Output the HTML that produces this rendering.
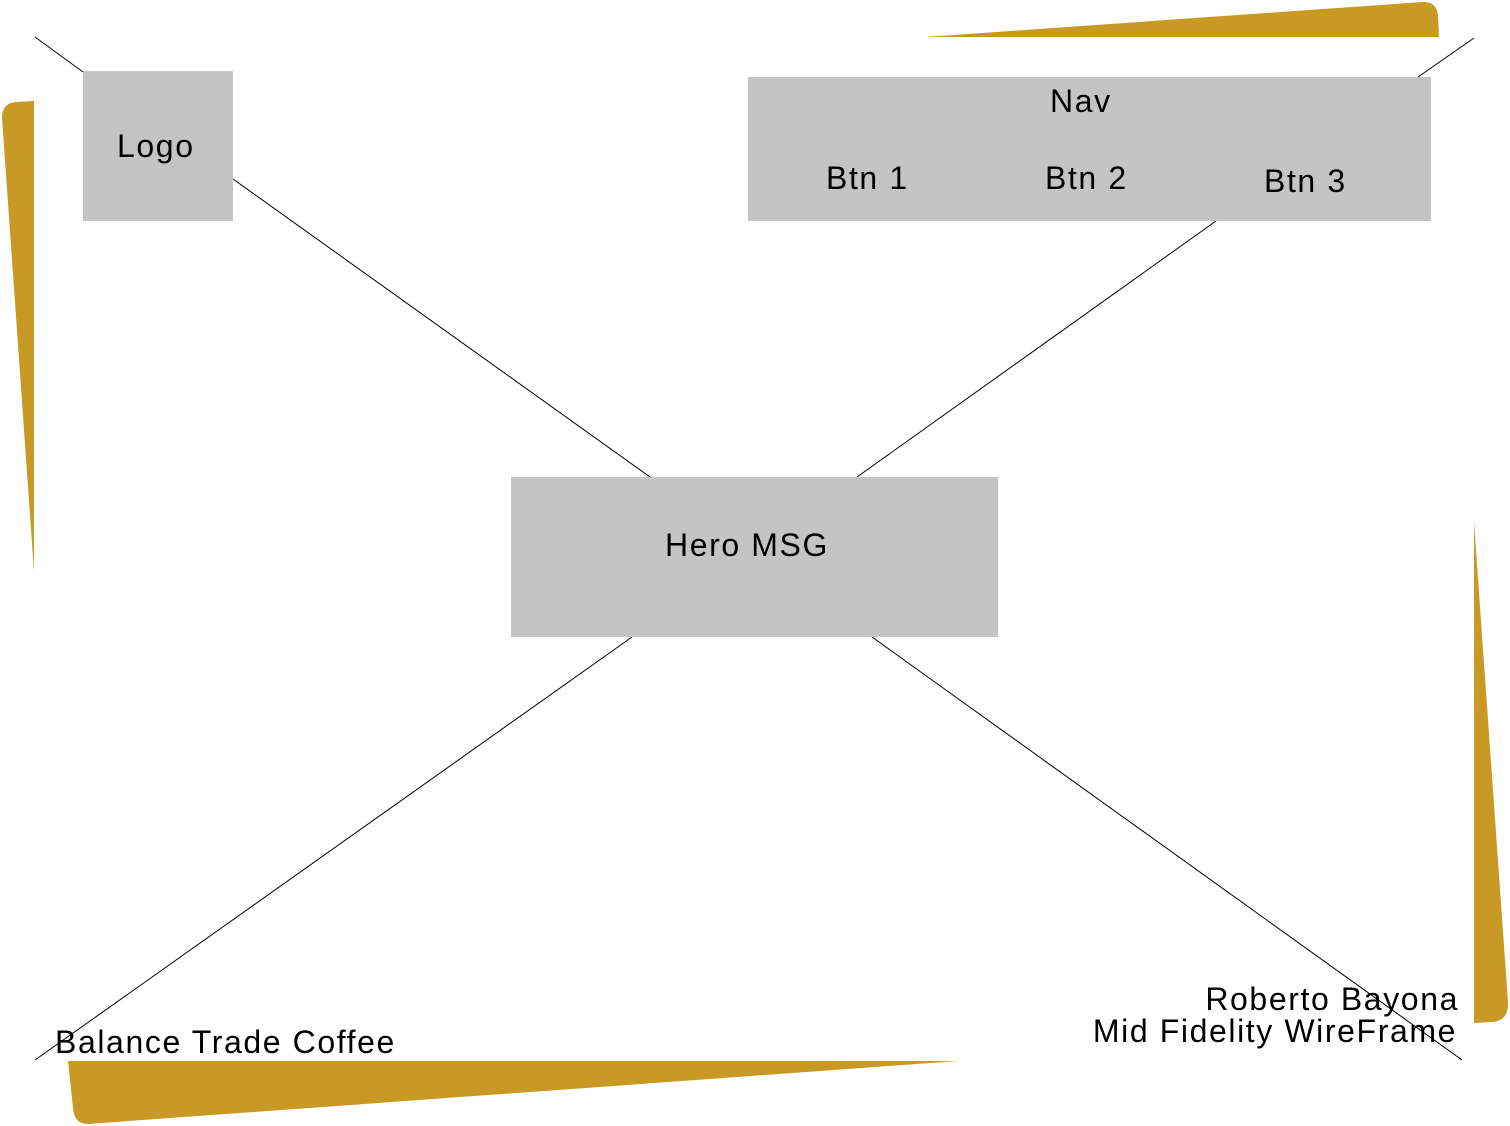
<!DOCTYPE html>
<html><head><style>
body{margin:0;width:1510px;height:1126px;background:#fff;overflow:hidden;position:relative;font-family:"Liberation Sans",sans-serif;}
.b{position:absolute;background:#c4c4c4;}
.t{position:absolute;font-size:32px;color:#000;white-space:nowrap;line-height:1;letter-spacing:1.6px;}
svg{position:absolute;left:0;top:0;}
</style></head><body>
<svg width="1510" height="1126">
<path d="M925,37 L1422,2 Q1437,1 1438,16 L1439,37 Z" fill="#c89a25"/>
<path d="M68,1061 L958,1061 L88,1124 Q74,1124 73,1108 Z" fill="#c89a25"/>
<path d="M1474,522 L1508,1002 Q1509,1021 1492,1022 L1474,1023 Z" fill="#c89a25"/>
<path d="M34,101 L34,572 L2,118 Q2,103 16,102 Z" fill="#c89a25"/>
<g stroke="#000" stroke-width="1">
<line x1="35" y1="37" x2="83" y2="72"/>
<line x1="233" y1="179" x2="650" y2="477"/>
<line x1="1474" y1="38" x2="1418" y2="77"/>
<line x1="1216" y1="221" x2="857" y2="477"/>
<line x1="632" y1="637" x2="35" y2="1060"/>
<line x1="872" y1="637" x2="1462" y2="1060"/>
</g>
</svg>
<div class="b" style="left:83px;top:71px;width:150px;height:150px"></div>
<div class="b" style="left:748px;top:77px;width:683px;height:144px"></div>
<div class="b" style="left:511px;top:477px;width:487px;height:160px"></div>
<div class="t" style="left:117px;top:130px">Logo</div>
<div class="t" style="left:1050px;top:85px">Nav</div>
<div class="t" style="left:826px;top:162px">Btn 1</div>
<div class="t" style="left:1045px;top:162px">Btn 2</div>
<div class="t" style="left:1264px;top:165px">Btn 3</div>
<div class="t" style="left:665px;top:529px">Hero MSG</div>
<div class="t" style="left:55px;top:1026px">Balance Trade Coffee</div>
<div class="t" style="right:51px;top:983px;text-align:right">Roberto Bayona</div>
<div class="t" style="right:53px;top:1015px;text-align:right">Mid Fidelity WireFrame</div>
</body></html>
